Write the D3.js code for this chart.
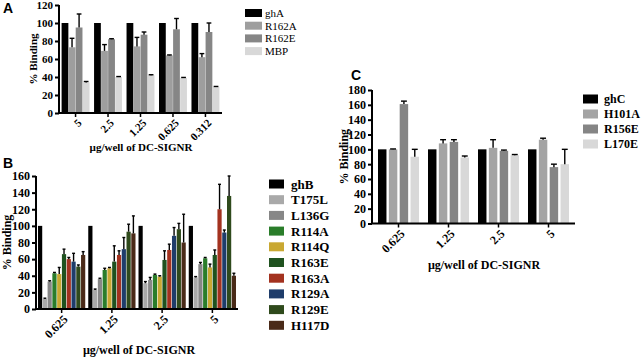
<!DOCTYPE html>
<html>
<head>
<meta charset="utf-8">
<script src="https://cdn.jsdelivr.net/npm/d3@7"></script>
<style>
  body { margin: 0; background: #fff; }
  svg text { font-family: "Liberation Serif", "Times New Roman", serif; }
</style>
</head>
<body>
<div id="chart"></div>
<script>
// ---- panel A data ----
var doseA = ["5", "2.5", "1.25", "0.625", "0.312"];
var seriesA = ["ghA", "R162A", "R162E", "MBP"];
var colorsA = ["#000000", "#9e9e9e", "#868686", "#d8d8d8"];
var valuesA = [
  [100, 100, 100, 100, 100],
  [73, 69, 74, 64, 62],
  [95, 82, 87, 93, 90],
  [34, 40, 42, 39, 29]
];
var errA = [
  [0, 0, 0, 0, 0],
  [10, 7, 10, 0.5, 4],
  [15, 0.5, 3, 12, 10],
  [1, 0.5, 0.5, 0.5, 0.5]
];

// ---- panel B data ----
var doseB = ["0.625", "1.25", "2.5", "5"];
var seriesB = ["ghB", "T175L", "L136G", "R114A", "R114Q", "R163E", "R163A", "R129A", "R129E", "H117D"];
var colorsB = ["#000000", "#a9a9a9", "#878787", "#2a7d2a", "#c9a832", "#1f521f", "#a3321f", "#1f3d6b", "#2f4a1c", "#4a2a18"];
var valuesB = [
  [100, 100, 100, 100],
  [12, 23, 31, 38],
  [33, 36, 35, 54],
  [43, 47, 41, 61],
  [42, 49, 39, 50],
  [66, 57, 59, 65],
  [60, 65, 71, 120],
  [57, 72, 88, 92],
  [51, 93, 96, 136],
  [65, 91, 80, 40]
];
var errB = [
  [0, 0, 0, 0],
  [1, 1, 2, 1],
  [1, 1, 3, 2],
  [1, 2, 1, 1],
  [8, 1, 1, 4],
  [6, 19, 11, 6],
  [2, 5, 7, 30],
  [10, 14, 10, 3],
  [2, 9, 7, 24],
  [4, 21, 34, 3]
];

// ---- panel C data ----
var doseC = ["0.625", "1.25", "2.5", "5"];
var seriesC = ["ghC", "H101A", "R156E", "L170E"];
var colorsC = ["#000000", "#a4a4a4", "#858585", "#d8d8d8"];
var valuesC = [
  [100, 100, 100, 100],
  [100, 108, 102, 113],
  [161, 110, 98, 76],
  [90, 89, 92, 80]
];
var errC = [
  [0, 0, 0, 0],
  [0.5, 5, 11, 2],
  [4, 3, 1, 4],
  [10, 2, 1, 20]
];

var svg = d3.select("#chart").append("svg")
    .attr("width", 642)
    .attr("height", 358);

function drawPanel(p) {
  var g = svg.append("g");

  var x0 = d3.scaleBand().domain(p.doses).range([p.left, p.right])
      .paddingInner(p.padIn).paddingOuter(p.padOut);
  var x1 = d3.scaleBand().domain(p.series).range([0, x0.bandwidth()])
      .paddingInner(p.barPad);
  var y = d3.scaleLinear().domain([0, p.ymax]).range([p.bottom, p.top]);

  var rows = [];
  p.series.forEach(function(s, si) {
    p.doses.forEach(function(d, di) {
      rows.push({ s: s, si: si, d: d, v: p.values[si][di], e: p.errs[si][di] });
    });
  });

  g.selectAll("rect.bar")
    .data(rows)
    .enter().append("rect")
      .attr("class", "bar")
      .attr("x", function(r) { return x0(r.d) + x1(r.s); })
      .attr("y", function(r) { return y(r.v); })
      .attr("width", x1.bandwidth())
      .attr("height", function(r) { return y(0) - y(r.v); })
      .attr("fill", function(r) { return p.colors[r.si]; });

  var errRows = rows.filter(function(r) { return r.e > 0; });
  var capW = x1.bandwidth() * 0.35;

  g.selectAll("line.err")
    .data(errRows)
    .enter().append("line")
      .attr("class", "err")
      .attr("x1", function(r) { return x0(r.d) + x1(r.s) + x1.bandwidth() / 2; })
      .attr("x2", function(r) { return x0(r.d) + x1(r.s) + x1.bandwidth() / 2; })
      .attr("y1", function(r) { return y(r.v); })
      .attr("y2", function(r) { return Math.max(y(r.v + r.e), p.top - 2); })
      .attr("stroke", "#000")
      .attr("stroke-width", 1.4);

  g.selectAll("line.cap")
    .data(errRows.filter(function(r) { return y(r.v + r.e) >= p.top - 2; }))
    .enter().append("line")
      .attr("class", "cap")
      .attr("x1", function(r) { return x0(r.d) + x1(r.s) + x1.bandwidth() / 2 - capW; })
      .attr("x2", function(r) { return x0(r.d) + x1(r.s) + x1.bandwidth() / 2 + capW; })
      .attr("y1", function(r) { return y(r.v + r.e); })
      .attr("y2", function(r) { return y(r.v + r.e); })
      .attr("stroke", "#000")
      .attr("stroke-width", 1.4);

  // y axis
  var yAxis = g.append("g")
      .attr("transform", "translate(" + p.left + ",0)")
      .call(d3.axisLeft(y).tickValues(d3.range(0, p.ymax + 1, 20)).tickSize(4).tickPadding(2));
  yAxis.select(".domain").attr("stroke-width", 2).attr("d", "M0," + p.bottom + "V" + p.top);
  yAxis.selectAll(".tick line").attr("stroke-width", 2);
  yAxis.selectAll("text")
      .attr("font-family", "Liberation Serif, Times New Roman, serif")
      .attr("font-weight", "bold")
      .attr("font-size", p.tickSize);

  // x axis
  var xAxis = g.append("g")
      .attr("transform", "translate(0," + p.bottom + ")")
      .call(d3.axisBottom(x0).tickSize(4).tickSizeOuter(0).tickPadding(4));
  xAxis.select(".domain").attr("stroke-width", 2)
      .attr("d", "M" + p.left + ",0H" + p.right);
  xAxis.selectAll(".tick line").attr("stroke-width", 1.5);
  xAxis.selectAll("text")
      .attr("font-family", "Liberation Serif, Times New Roman, serif")
      .attr("font-weight", "bold")
      .attr("font-size", p.tickSize)
      .attr("text-anchor", "end")
      .attr("dy", "0.35em")
      .attr("transform", "translate(4,8) rotate(-45)")
      .attr("y", 0)
      .attr("x", 0);

  // axis titles
  g.append("text")
      .attr("transform", "translate(" + p.yLabelX + "," + ((p.top + p.bottom) / 2) + ") rotate(-90)")
      .attr("text-anchor", "middle")
      .attr("font-weight", "bold")
      .attr("font-size", p.titleSize)
      .text("% Binding");

  g.append("text")
      .attr("x", p.xLabelX)
      .attr("y", p.xLabelY)
      .attr("text-anchor", "middle")
      .attr("font-weight", "bold")
      .attr("font-size", p.titleSize)
      .text("\u00b5g/well of DC-SIGNR");

  // legend
  var leg = g.selectAll("g.leg")
    .data(p.series)
    .enter().append("g")
      .attr("class", "leg")
      .attr("transform", function(s, i) {
        return "translate(" + p.legX + "," + (p.legY + i * p.legStep) + ")";
      });
  leg.append("rect")
      .attr("x", 0)
      .attr("y", -p.swH / 2)
      .attr("width", p.swW)
      .attr("height", p.swH)
      .attr("fill", function(s, i) { return p.colors[i]; });
  leg.append("text")
      .attr("x", p.legTextX)
      .attr("dy", "0.35em")
      .attr("font-weight", p.legBold ? "bold" : "normal")
      .attr("font-size", p.legSize)
      .text(function(s) { return s; });

  // panel letter
  svg.append("text")
      .attr("x", p.letterX)
      .attr("y", p.letterY)
      .style("font-family", "Liberation Sans, Arial, sans-serif")
      .attr("font-weight", "bold")
      .attr("font-size", 14)
      .text(p.letter);
}

drawPanel({
  letter: "A", letterX: 3, letterY: 13,
  doses: doseA, series: seriesA, colors: colorsA, values: valuesA, errs: errA,
  left: 59, right: 222, top: 5, bottom: 113, ymax: 120,
  padIn: 0.14, padOut: 0.08, barPad: 0.04,
  tickSize: 11, titleSize: 11,
  yLabelX: 37, xLabelX: 141, xLabelY: 151,
  legX: 245, legY: 13, legStep: 12.7, swW: 17, swH: 8, legTextX: 20, legSize: 11, legBold: false
});

drawPanel({
  letter: "B", letterX: 3, letterY: 168,
  doses: doseB, series: seriesB, colors: colorsB, values: valuesB, errs: errB,
  left: 36, right: 238, top: 176, bottom: 309, ymax: 160,
  padIn: 0.06, padOut: 0.04, barPad: 0.12,
  tickSize: 12, titleSize: 12,
  yLabelX: 11, xLabelX: 139, xLabelY: 354,
  legX: 269, legY: 184, legStep: 15.7, swW: 15, swH: 9, legTextX: 22, legSize: 13, legBold: true
});

drawPanel({
  letter: "C", letterX: 351, letterY: 80,
  doses: doseC, series: seriesC, colors: colorsC, values: valuesC, errs: errC,
  left: 372, right: 575, top: 90, bottom: 223.5, ymax: 180,
  padIn: 0.18, padOut: 0.12, barPad: 0.22,
  tickSize: 12, titleSize: 12,
  yLabelX: 348, xLabelX: 484, xLabelY: 269,
  legX: 583, legY: 99, legStep: 15, swW: 15, swH: 9, legTextX: 21, legSize: 12, legBold: true
});
</script>
</body>
</html>
